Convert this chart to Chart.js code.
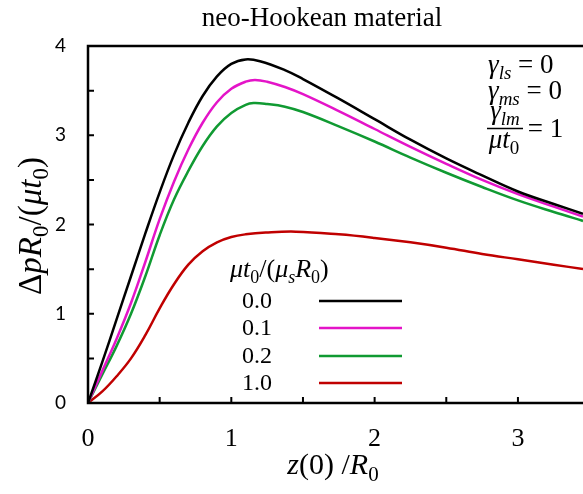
<!DOCTYPE html>
<html>
<head>
<meta charset="utf-8">
<script src="https://cdn.jsdelivr.net/npm/chart.js@4/dist/chart.umd.min.js"></script>
<style>
  html, body { margin: 0; padding: 0; background: #fff; }
  #wrap { width: 583px; height: 494px; position: relative; }
</style>
</head>
<body>
<div id="wrap"><canvas id="chart"></canvas></div>
<script>
// Кривые для разных значений μt0/(μs R0): z(0)/R0 -> ΔpR0/(μt0)
const xs00 = [0, 0.1, 0.2, 0.3, 0.4, 0.5, 0.6, 0.7, 0.8, 0.9, 1.0, 1.1, 1.2, 1.374, 1.5, 1.75, 2.0, 2.25, 2.5, 2.75, 3.0, 3.25, 3.454];
const ys00 = [0, 0.46, 0.94, 1.42, 1.9, 2.36, 2.78, 3.14, 3.44, 3.66, 3.8, 3.85, 3.83, 3.73, 3.63, 3.41, 3.18, 2.95, 2.74, 2.55, 2.37, 2.23, 2.12];

const xs01 = [0, 0.1, 0.2, 0.3, 0.4, 0.5, 0.6, 0.7, 0.8, 0.9, 1.0, 1.1, 1.165, 1.25, 1.374, 1.5, 1.75, 2.0, 2.25, 2.5, 2.75, 3.0, 3.25, 3.454];
const ys01 = [0, 0.36, 0.72, 1.12, 1.58, 2.06, 2.48, 2.84, 3.14, 3.37, 3.52, 3.6, 3.62, 3.6, 3.54, 3.46, 3.27, 3.07, 2.87, 2.68, 2.5, 2.34, 2.2, 2.09];

const xs02 = [0, 0.1, 0.2, 0.3, 0.4, 0.5, 0.6, 0.7, 0.8, 0.9, 1.0, 1.1, 1.155, 1.25, 1.374, 1.5, 1.75, 2.0, 2.25, 2.5, 2.75, 3.0, 3.25, 3.454];
const ys02 = [0, 0.32, 0.64, 1.0, 1.42, 1.88, 2.28, 2.6, 2.88, 3.1, 3.25, 3.34, 3.36, 3.35, 3.32, 3.26, 3.1, 2.93, 2.75, 2.58, 2.42, 2.27, 2.14, 2.04];

const xs10 = [0, 0.1, 0.2, 0.3, 0.4, 0.5, 0.6, 0.7, 0.8, 0.9, 1.0, 1.1, 1.24, 1.45, 1.75, 2.0, 2.25, 2.5, 2.75, 3.0, 3.25, 3.454];
const ys10 = [0, 0.13, 0.3, 0.5, 0.76, 1.06, 1.33, 1.55, 1.7, 1.8, 1.86, 1.89, 1.91, 1.92, 1.89, 1.85, 1.8, 1.74, 1.67, 1.61, 1.55, 1.5];

const legendLabels = ['0.0', '0.1', '0.2', '1.0'];
const colors = ['#000000', '#e414c8', '#109a32', '#c00000'];
const xTicks = [0, 1, 2, 3];
const yTicks = [0, 1, 2, 3, 4];

const allX = [xs00, xs01, xs02, xs10];
const allY = [ys00, ys01, ys02, ys10];

function toPoints(xs, ys) {
    return xs.map((x, i) => ({ x: x, y: ys[i] }));
}

const datasets = allX.map((xs, k) => ({
    label: legendLabels[k],
    data: toPoints(xs, allY[k]),
    showLine: true,
    borderColor: colors[k],
    borderWidth: 2.5,
    pointRadius: 0,
    fill: false,
    tension: 0.4
}));

const SERIF = '"Liberation Serif", "Times New Roman", serif';

// Рисует строку из кусочков: курсив, нижние индексы
function drawRich(ctx, parts, x, y, size, align) {
    const fontOf = p => (p.it ? 'italic ' : '') + Math.round(p.sub ? size * 0.7 : size) + 'px ' + SERIF;
    let total = 0;
    parts.forEach(p => { ctx.font = fontOf(p); total += ctx.measureText(p.t).width; });
    let cx = align === 'center' ? x - total / 2 : (align === 'right' ? x - total : x);
    ctx.textBaseline = 'alphabetic';
    ctx.textAlign = 'left';
    parts.forEach(p => {
        ctx.font = fontOf(p);
        ctx.fillText(p.t, cx, p.sub ? y + size * 0.22 : y);
        cx += ctx.measureText(p.t).width;
    });
    return total;
}

// Рамка, внутренние засечки, подписи и легенда
const decor = {
    id: 'decor',
    afterDraw(chart) {
        const ctx = chart.ctx;
        const a = chart.chartArea;
        const sx = chart.scales.x, sy = chart.scales.y;
        ctx.save();
        ctx.fillStyle = '#000';
        ctx.strokeStyle = '#000';

        // оси и верхняя граница
        ctx.lineWidth = 2.5;
        ctx.beginPath();
        ctx.moveTo(a.right + 5, a.top);
        ctx.lineTo(a.left, a.top);
        ctx.lineTo(a.left, a.bottom);
        ctx.lineTo(a.right + 5, a.bottom);
        ctx.stroke();

        // засечки внутрь через каждые 0.5
        ctx.lineWidth = 2;
        ctx.beginPath();
        for (let v = 0.5; v < 3.5; v += 0.5) {
            const px = sx.getPixelForValue(v);
            ctx.moveTo(px, a.bottom);
            ctx.lineTo(px, a.bottom - 6);
        }
        for (let v = 0.5; v < 4; v += 0.5) {
            const py = sy.getPixelForValue(v);
            ctx.moveTo(a.left, py);
            ctx.lineTo(a.left + 6, py);
        }
        ctx.stroke();

        // заголовок
        ctx.font = '27px ' + SERIF;
        ctx.textAlign = 'center';
        ctx.textBaseline = 'middle';
        ctx.fillText('neo-Hookean material', 322, 19);

        // подпись оси x
        drawRich(ctx, [
            { t: 'z', it: true }, { t: '(0) /' }, { t: 'R', it: true }, { t: '0', sub: true }
        ], 333, 474, 30, 'center');

        // подпись оси y (повёрнута)
        ctx.save();
        ctx.translate(41, 226);
        ctx.rotate(-Math.PI / 2);
        drawRich(ctx, [
            { t: 'Δ' }, { t: 'pR', it: true }, { t: '0', sub: true }, { t: '/(' },
            { t: 'μt', it: true }, { t: '0', sub: true }, { t: ')' }
        ], 0, 0, 33, 'center');
        ctx.restore();

        // параметры справа сверху
        drawRich(ctx, [{ t: 'γ', it: true }, { t: 'ls', it: true, sub: true }, { t: ' = 0' }], 488, 73, 27, 'left');
        drawRich(ctx, [{ t: 'γ', it: true }, { t: 'ms', it: true, sub: true }, { t: ' = 0' }], 488, 99, 27, 'left');
        drawRich(ctx, [{ t: 'γ', it: true }, { t: 'lm', it: true, sub: true }], 505, 119, 27, 'center');
        ctx.lineWidth = 1.5;
        ctx.beginPath();
        ctx.moveTo(487, 128.5);
        ctx.lineTo(523, 128.5);
        ctx.stroke();
        drawRich(ctx, [{ t: 'μt', it: true }, { t: '0', sub: true }], 504, 148, 27, 'center');
        drawRich(ctx, [{ t: ' = 1' }], 521, 137, 27, 'left');

        // легенда
        drawRich(ctx, [
            { t: 'μt', it: true }, { t: '0', sub: true }, { t: '/(' },
            { t: 'μ', it: true }, { t: 's', it: true, sub: true }, { t: 'R', it: true },
            { t: '0', sub: true }, { t: ')' }
        ], 230, 277, 26, 'left');
        const rowsY = [301, 328, 356, 383];
        legendLabels.forEach((lab, i) => {
            ctx.font = '24px ' + SERIF;
            ctx.textAlign = 'left';
            ctx.textBaseline = 'middle';
            ctx.fillText(lab, 242, rowsY[i] + 1);
            ctx.strokeStyle = colors[i];
            ctx.lineWidth = 2.5;
            ctx.beginPath();
            ctx.moveTo(319, rowsY[i]);
            ctx.lineTo(402, rowsY[i]);
            ctx.stroke();
        });
        ctx.restore();
    }
};

const ctx = document.getElementById('chart').getContext('2d');
const chart = new Chart(ctx, {
    type: 'scatter',
    data: { datasets: datasets },
    options: {
        responsive: true,
        maintainAspectRatio: false,
        animation: false,
        layout: { padding: { top: 46, right: 0, left: 0, bottom: 0 } },
        plugins: { legend: { display: false }, tooltip: { enabled: false } },
        scales: {
            x: {
                type: 'linear',
                min: 0,
                max: 3.454,
                afterBuildTicks: s => { s.ticks = xTicks.map(v => ({ value: v })); },
                afterFit: s => { s.height = 91; },
                grid: { display: false, drawTicks: false },
                border: { display: false },
                ticks: {
                    padding: 21,
                    color: '#000',
                    font: { family: SERIF, size: 26 },
                    maxRotation: 0
                }
            },
            y: {
                type: 'linear',
                min: 0,
                max: 4,
                afterBuildTicks: s => { s.ticks = yTicks.map(v => ({ value: v })); },
                afterFit: s => { s.width = 88; },
                grid: { display: false, drawTicks: false },
                border: { display: false },
                ticks: {
                    padding: 22,
                    color: '#000',
                    font: { family: 'Lato, "Open Sans", sans-serif', size: 19 }
                }
            }
        }
    },
    plugins: [decor]
});
</script>
</body>
</html>
